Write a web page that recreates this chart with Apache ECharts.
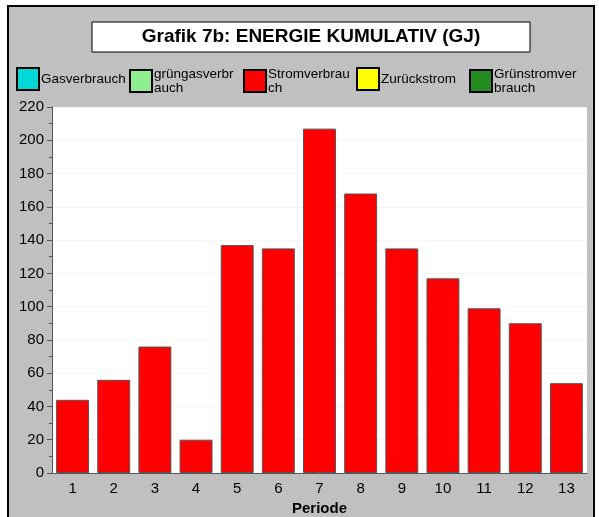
<!DOCTYPE html>
<html>
<head>
<meta charset="utf-8">
<script src="https://cdn.jsdelivr.net/npm/echarts@6/dist/echarts.min.js"></script>
<style>
  body { margin: 0; background: #fff; }
  #frame { position: absolute; left: 7px; top: 5px; width: 584px; height: 540px;
           border: 2px solid #000; background: #c0c0c0; }
  #chart { position: absolute; left: 0; top: 0; width: 599px; height: 517px; }
</style>
</head>
<body>
<div id="frame"></div>
<div id="chart"></div>
<script>
// Daten
var perioden = ['1', '2', '3', '4', '5', '6', '7', '8', '9', '10', '11', '12', '13'];
var stromverbrauch = [44, 56, 76, 20, 137, 135, 207, 168, 135, 117, 99, 90, 54];
var serienNamen = ['Gasverbrauch', 'grüngasverbrauch', 'Stromverbrauch', 'Zurückstrom', 'Grünstromverbrauch'];
var legendenText = ['Gasverbrauch', 'grüngasverbr\nauch', 'Stromverbrau\nch', 'Zurückstrom', 'Grünstromver\nbrauch'];
var serienFarben = ['#00d8d8', '#90ee90', '#ff0000', '#ffff00', '#228b22'];
var legendenX = [16, 129, 243, 356, 469];

var chart = echarts.init(document.getElementById('chart'));

var legends = serienNamen.map(function (name, i) {
    return {
        data: [name],
        left: legendenX[i],
        top: 67,
        padding: 0,
        itemWidth: 22,
        itemHeight: 22,
        icon: 'rect',
        itemStyle: { borderColor: '#000', borderWidth: 2 },
        textStyle: { fontFamily: 'Liberation Sans', fontSize: 13.5, color: '#000', lineHeight: 14, padding: [0, 0, 0, -3] },
        formatter: function () { return legendenText[i]; },
        selectedMode: false
    };
});

var series = serienNamen.map(function (name, i) {
    return {
        name: name,
        type: 'bar',
        stack: 'alle',
        barCategoryGap: '20%',
        itemStyle: { color: serienFarben[i], borderColor: '#555', borderWidth: 1 },
        data: name === 'Stromverbrauch' ? stromverbrauch : []
    };
});

var option = {
    animation: false,
    textStyle: { fontFamily: 'Liberation Sans' },
    graphic: [
        {
            type: 'rect',
            shape: { x: 92, y: 22, width: 438, height: 30 },
            style: { fill: '#fff', stroke: '#000', lineWidth: 1 }
        },
        {
            type: 'text',
            x: 311, y: 37,
            style: {
                text: 'Grafik 7b: ENERGIE KUMULATIV (GJ)',
                fill: '#000',
                font: 'bold 19px "Liberation Sans"',
                align: 'center',
                verticalAlign: 'middle'
            }
        }
    ],
    legend: legends,
    grid: {
        left: 52, right: 12, top: 107, bottom: 44,
        outerBoundsMode: 'none',
        containLabel: false,
        show: true, backgroundColor: '#fff', borderWidth: 0
    },
    xAxis: {
        type: 'category',
        data: perioden,
        name: 'Periode',
        nameLocation: 'middle',
        nameGap: 25,
        nameTextStyle: { fontSize: 15, fontWeight: 'bold', color: '#000' },
        axisLine: { lineStyle: { color: '#555', width: 1 } },
        axisTick: { alignWithLabel: true, length: 5, lineStyle: { color: '#555' } },
        axisLabel: { fontSize: 15, color: '#000', margin: 8 }
    },
    yAxis: {
        type: 'value',
        min: 0, max: 220, interval: 20,
        axisLine: { show: true, lineStyle: { color: '#555', width: 1 } },
        axisTick: { show: true, length: 5, lineStyle: { color: '#555' } },
        minorTick: { show: true, splitNumber: 2, length: 3, lineStyle: { color: '#555' } },
        splitLine: { show: true, lineStyle: { color: '#f5f5f5' } },
        axisLabel: { fontSize: 15, color: '#000', margin: 8 }
    },
    series: series
};

chart.setOption(option);
</script>
</body>
</html>
